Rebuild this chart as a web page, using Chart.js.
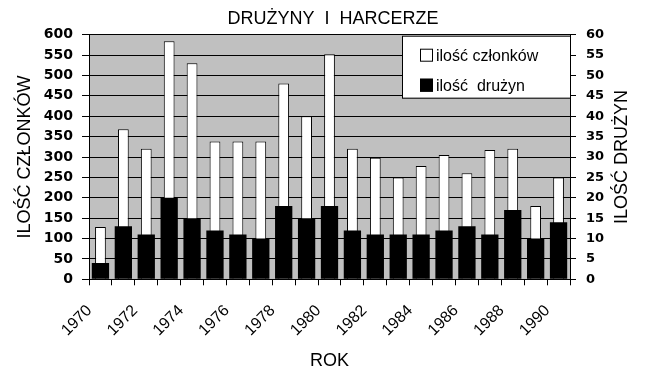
<!DOCTYPE html>
<html>
<head>
<meta charset="utf-8">
<script src="https://cdn.jsdelivr.net/npm/chart.js@4"></script>
<style>
  html, body { margin: 0; padding: 0; background: #fff; }
  #wrap { width: 666px; height: 387px; }
</style>
</head>
<body>
<div id="wrap"><canvas id="myChart" width="666" height="387"></canvas></div>
<script>
// dane
var years = ['1970', '1971', '1972', '1973', '1974', '1975', '1976', '1977', '1978', '1979', '1980',
             '1981', '1982', '1983', '1984', '1985', '1986', '1987', '1988', '1989', '1990'];
var czlonkowie = [128, 368, 320, 584, 530, 338, 338, 338, 480, 400, 552,
                  320, 298, 250, 278, 305, 260, 317, 320, 180, 250];
var druzyny = [4, 13, 11, 20, 15, 12, 11, 10, 18, 15, 18,
               12, 11, 11, 11, 12, 13, 11, 17, 10, 14];
var leftTicks = [0, 600, 50];
var rightTicks = [0, 60, 5];

Chart.defaults.font.family = '"Liberation Sans", Arial, sans-serif';
Chart.defaults.color = '#000';

// szare tlo pola wykresu
const plotBg = {
    id: 'plotBg',
    beforeDraw(chart) {
        const {ctx, chartArea: a} = chart;
        ctx.save();
        ctx.fillStyle = '#fff';
        ctx.fillRect(0, 0, chart.width, chart.height);
        ctx.fillStyle = '#c0c0c0';
        ctx.fillRect(a.left, a.top, a.right - a.left, a.bottom - a.top);
        ctx.restore();
    }
};

// legenda w srodku + tytul prawej osi (czytany od dolu)
const extras = {
    id: 'extras',
    afterDraw(chart) {
        const {ctx, chartArea: a} = chart;
        ctx.save();
        const x0 = a.right - 168, y0 = a.top + 1, w = 168, h = 62;
        ctx.fillStyle = '#fff';
        ctx.fillRect(x0, y0, w, h);
        ctx.strokeStyle = '#000';
        ctx.lineWidth = 1;
        ctx.strokeRect(x0 + 0.5, y0 + 0.5, w, h);
        ctx.font = '16px "Liberation Sans", Arial';
        ctx.textBaseline = 'middle';
        ctx.textAlign = 'left';
        chart.data.datasets.forEach((ds, i) => {
            const sy = y0 + 13 + i * 30;
            ctx.fillStyle = ds.backgroundColor;
            ctx.fillRect(x0 + 18, sy, 13, 13);
            ctx.strokeRect(x0 + 18.5, sy + 0.5, 12, 12);
            ctx.fillStyle = '#000';
            ctx.fillText(ds.label, x0 + 34, sy + 7.5);
        });
        ctx.translate(622, (a.top + a.bottom) / 2);
        ctx.rotate(-Math.PI / 2);
        ctx.textAlign = 'center';
        ctx.font = '18px "Liberation Sans", Arial';
        ctx.fillText('ILOŚĆ DRUŻYN', 0, 0);
        ctx.restore();
    }
};

var chart = new Chart(document.getElementById('myChart'), {
    type: 'bar',
    data: {
        labels: years,
        datasets: [{
            label: 'ilość członków',
            data: czlonkowie,
            yAxisID: 'y',
            backgroundColor: '#ffffff',
            borderColor: '#000',
            borderWidth: 1,
            borderSkipped: 'bottom',
            barPercentage: 0.47,
            categoryPercentage: 1,
            grouped: false,
            order: 2
        }, {
            label: 'ilość  drużyn',
            data: druzyny,
            yAxisID: 'y1',
            backgroundColor: '#000000',
            borderWidth: 0,
            barPercentage: 0.755,
            categoryPercentage: 1,
            grouped: false,
            order: 1
        }]
    },
    options: {
        responsive: false,
        animation: false,
        layout: { padding: 0 },
        plugins: {
            legend: { display: false },
            tooltip: { enabled: false },
            title: {
                display: true,
                text: 'DRUŻYNY  I  HARCERZE',
                font: { size: 18, weight: 'normal' },
                padding: { top: 8.5, bottom: 4.6 }
            }
        },
        scales: {
            x: {
                offset: true,
                grid: { drawOnChartArea: false, color: '#000', tickLength: 6, offset: true },
                border: { color: '#000' },
                ticks: {
                    autoSkip: false,
                    minRotation: 45,
                    maxRotation: 45,
                    padding: 16,
                    labelOffset: -11,
                    font: { size: 16 },
                    callback: function (v, i) { return i % 2 === 0 ? years[i] : ''; }
                },
                title: { display: true, text: 'ROK', font: { size: 18 }, padding: { top: 4, bottom: 15.5 } },
                afterFit: function (s) { s.height = 107.7; }
            },
            y: {
                position: 'left',
                min: leftTicks[0],
                max: leftTicks[1],
                grid: { color: '#000', tickLength: 7 },
                border: { color: '#000' },
                ticks: { stepSize: leftTicks[2], padding: 9, font: { family: '"DejaVu Sans"', size: 14, weight: 'bold' } },
                title: { display: true, text: 'ILOŚĆ CZŁONKÓW', font: { size: 18 }, padding: { top: 14 } },
                afterFit: function (s) { s.width = 89; }
            },
            y1: {
                position: 'right',
                min: rightTicks[0],
                max: rightTicks[1],
                grid: { drawOnChartArea: false, color: '#000', tickLength: 6 },
                border: { color: '#000' },
                ticks: { stepSize: rightTicks[2], padding: 10, font: { family: '"DejaVu Sans"', size: 13, weight: 'bold' } },
                afterFit: function (s) { s.width = 96; }
            }
        }
    },
    plugins: [plotBg, extras]
});
</script>
</body>
</html>
